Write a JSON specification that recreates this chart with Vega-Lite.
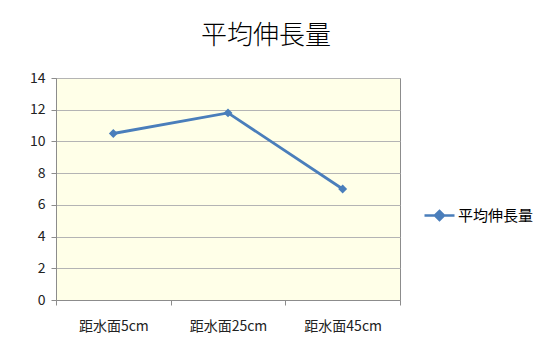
{
  "$schema": "https://vega.github.io/schema/vega-lite/v6.json",
  "width": 344,
  "height": 222,
  "autosize": "none",
  "padding": {"left": 56, "top": 78, "right": 146, "bottom": 49},
  "background": "white",
  "title": {
    "text": "平均伸長量",
    "font": "Noto Sans CJK JP",
    "fontSize": 26,
    "fontWeight": 300,
    "color": "#000000",
    "anchor": "middle",
    "dx": 38,
    "offset": 22
  },
  "config": {
    "view": {"fill": "#FFFFE8", "stroke": "#8c8c8c", "strokeWidth": 1},
    "font": "Noto Sans CJK JP"
  },
  "data": {
    "values": [
      {"pos": "距水面5cm", "value": 10.5, "series": "平均伸長量"},
      {"pos": "距水面25cm", "value": 11.8, "series": "平均伸長量"},
      {"pos": "距水面45cm", "value": 7.0, "series": "平均伸長量"}
    ]
  },
  "encoding": {
    "x": {
      "field": "pos",
      "type": "nominal",
      "sort": null,
      "scale": {"type": "band", "paddingInner": 0, "paddingOuter": 0},
      "axis": {
        "title": null,
        "labelAngle": 0,
        "labelFont": "Noto Sans CJK JP",
        "labelFontSize": 14,
        "labelColor": "#222222",
        "labelPadding": 14,
        "tickBand": "extent",
        "tickSize": 5,
        "tickColor": "#8c8c8c",
        "domainColor": "#8c8c8c",
        "grid": false
      }
    },
    "y": {
      "field": "value",
      "type": "quantitative",
      "scale": {"domain": [0, 14], "nice": false},
      "axis": {
        "title": null,
        "values": [0, 2, 4, 6, 8, 10, 12, 14],
        "labelFont": "Noto Sans CJK JP",
        "labelFontSize": 14,
        "labelColor": "#222222",
        "labelPadding": 6,
        "tickSize": 5,
        "tickColor": "#8c8c8c",
        "domainColor": "#8c8c8c",
        "gridColor": "#b4b4b4",
        "gridWidth": 1.2
      }
    },
    "color": {
      "field": "series",
      "type": "nominal",
      "scale": {"range": ["#4A7EBB"]},
      "legend": {
        "title": null,
        "orient": "none",
        "legendX": 367,
        "legendY": 121,
        "symbolType": "M -1 0 L 1 0 M -0.3 0 L 0 -0.3 L 0.3 0 L 0 0.3 Z",
        "symbolSize": 900,
        "symbolStrokeWidth": 2.5,
        "symbolFillColor": "#4A7EBB",
        "symbolStrokeColor": "#4A7EBB",
        "labelFont": "Noto Sans CJK JP",
        "labelFontSize": 15,
        "labelColor": "#000000",
        "labelOffset": 2
      }
    }
  },
  "layer": [
    {"mark": {"type": "line", "strokeWidth": 2.8}},
    {"mark": {"type": "point", "shape": "diamond", "filled": true, "size": 80, "opacity": 1}}
  ]
}
